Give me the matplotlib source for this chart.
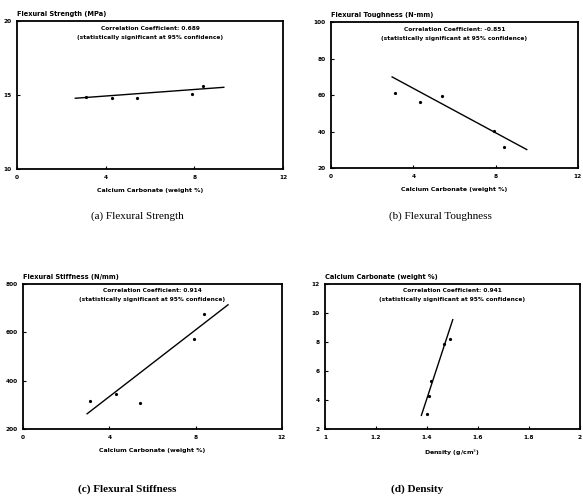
import numpy as np
import matplotlib
matplotlib.use('Agg')
import matplotlib.pyplot as plt

# specimen data
caco3 = [3.1, 4.3, 5.4, 7.9, 8.4]
strength = [14.85, 14.82, 14.78, 15.05, 15.6]
toughness = [61.1, 56.2, 59.5, 40.2, 31.6]
stiffness = [317, 346, 308, 574, 677]
density = [1.40, 1.408, 1.417, 1.465, 1.492]
caco3_d = [3.03, 4.25, 5.34, 7.83, 8.24]

# fitted lines (end points)
fit_a_x, fit_a_y = [2.63, 9.33], [14.78, 15.52]
fit_b_x, fit_b_y = [2.97, 9.51], [69.9, 30.1]
fit_c_x, fit_c_y = [2.97, 9.50], [263, 714]
fit_d_x, fit_d_y = [1.378, 1.501], [2.94, 9.54]

corr = ['0.689', '-0.851', '0.914', '0.941']
ylabels = ['Flexural Strength (MPa)', 'Flexural Toughness (N-mm)',
           'Flexural Stiffness (N/mm)', 'Calcium Carbonate (weight %)']
xlabels = ['Calcium Carbonate (weight %)', 'Calcium Carbonate (weight %)',
           'Calcium Carbonate (weight %)', r'Density (g/cm$^3$)']
captions = ['(a) Flexural Strength', '(b) Flexural Toughness',
            '(c) Flexural Stiffness', '(d) Density']

W, H = 583, 503
fig = plt.figure(figsize=(W / 100, H / 100), dpi=100)


def box(l, r, t, b):
    return [l / W, 1 - b / H, (r - l) / W, (b - t) / H]


panels = [
    dict(pos=box(17, 283, 21, 169), x=caco3, y=strength, fx=fit_a_x, fy=fit_a_y,
         xlim=(0, 12), ylim=(10, 20), xt=[0, 4, 8, 12], yt=[10, 15, 20],
         xtl=['0', '4', '8', '12'], ytl=['10', '15', '20']),
    dict(pos=box(331, 578, 22, 168), x=caco3, y=toughness, fx=fit_b_x, fy=fit_b_y,
         xlim=(0, 12), ylim=(20, 100), xt=[0, 4, 8, 12], yt=[20, 40, 60, 80, 100],
         xtl=['0', '4', '8', '12'], ytl=['20', '40', '60', '80', '100']),
    dict(pos=box(23, 282, 284, 429), x=caco3, y=stiffness, fx=fit_c_x, fy=fit_c_y,
         xlim=(0, 12), ylim=(200, 800), xt=[0, 4, 8, 12], yt=[200, 400, 600, 800],
         xtl=['0', '4', '8', '12'], ytl=['200', '400', '600', '800']),
    dict(pos=box(325, 580, 284, 429), x=density, y=caco3_d, fx=fit_d_x, fy=fit_d_y,
         xlim=(1, 2), ylim=(2, 12), xt=[1, 1.2, 1.4, 1.6, 1.8, 2], yt=[2, 4, 6, 8, 10, 12],
         xtl=['1', '1.2', '1.4', '1.6', '1.8', '2'], ytl=['2', '4', '6', '8', '10', '12']),
]

tiny = dict(fontsize=4.2, fontweight='bold', family='DejaVu Sans')

for i, p in enumerate(panels):
    ax = fig.add_axes(p['pos'])
    ax.plot(p['fx'], p['fy'], color='black', lw=1.0)
    ax.plot(p['x'], p['y'], 'o', color='black', ms=1.3)
    ax.set_xlim(*p['xlim'])
    ax.set_ylim(*p['ylim'])
    ax.set_xticks(p['xt'])
    ax.set_yticks(p['yt'])
    ax.set_xticklabels(p['xtl'], **tiny)
    ax.set_yticklabels(p['ytl'], **tiny)
    ax.tick_params(direction='in', length=2, width=0.8, pad=4)
    for s in ax.spines.values():
        s.set_linewidth(1.3)
    ax.text(0.5, 0.952, 'Correlation Coefficient: ' + corr[i], transform=ax.transAxes,
            ha='center', va='center', **tiny)
    ax.text(0.5, 0.89, '(statistically significant at 95% confidence)',
            transform=ax.transAxes, ha='center', va='center', **tiny)
    ax.text(0.0, 1.03, ylabels[i], transform=ax.transAxes, ha='left', va='bottom',
            fontsize=4.8, fontweight='bold')
    ax.set_xlabel(xlabels[i], fontsize=4.5, fontweight='bold', labelpad=6)

cap_pos = [(137, 216), (440, 216), (127, 489), (417, 489)]
for j, (cx, cy) in enumerate(cap_pos):
    fig.text(cx / W, 1 - cy / H, captions[j], ha='center', va='center',
             fontsize=8, family='Liberation Serif',
             fontweight='bold' if j >= 2 else 'normal')

fig.savefig('out.png', dpi=100)
